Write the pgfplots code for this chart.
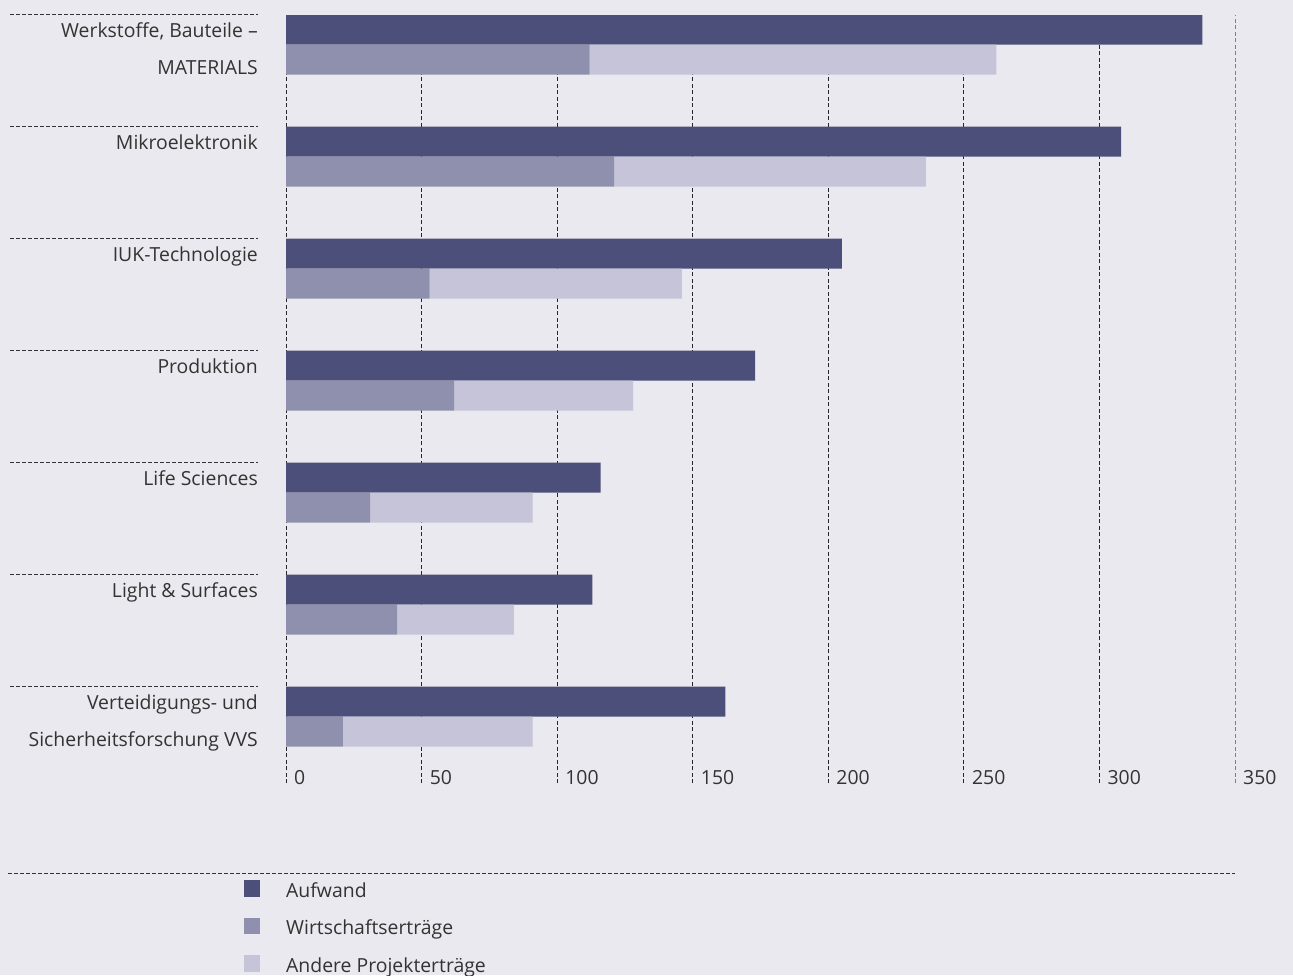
\documentclass[border=0pt]{standalone}
\usepackage{fontspec}
\setmainfont{Open Sans}
\usepackage{pgfplots}
\pgfplotsset{compat=1.18}
\definecolor{bg}{HTML}{E9E9EF}
\definecolor{cA}{HTML}{4B4F7A}
\definecolor{cW}{HTML}{8E90AE}
\definecolor{cP}{HTML}{C5C4D8}
\definecolor{txt}{HTML}{333333}
\pgfplotsset{sq/.style={legend image code/.code={\fill[##1,draw=none] (0pt,-4.5pt) rectangle (16pt,12pt);}}}
\newcommand{\lfont}{\fontsize{19.4}{37}\selectfont}
\begin{document}
\begin{tikzpicture}
\fill[bg] (0pt,0pt) rectangle (1293pt,-975pt);
\path[use as bounding box] (0pt,0pt) rectangle (1293pt,-975pt);
\foreach \yy in {14,126,238,350,462,574,686} {
  \draw[txt, line width=0.9pt, dash pattern=on 4pt off 2pt] (10pt,-\yy*1pt) -- (258pt,-\yy*1pt);
}
\draw[txt, line width=0.9pt, dash pattern=on 4pt off 2pt] (8pt,-873pt) -- (1235pt,-873pt);

\begin{axis}[
  at={(286pt,-783pt)}, anchor=south west,
  scale only axis, width=949pt, height=768pt,
  xmin=0, xmax=350, ymin=-783, ymax=-15,
  axis line style={draw=none}, major tick length=0pt,
  xtick={0,50,...,300}, xticklabels={0,50,100,150,200,250,300},
  extra x ticks={350}, extra x tick labels={350},
  extra x tick style={grid style={dash pattern=on 4pt off 2.5pt, line width=1pt, gray}},
  xmajorgrids, grid style={dash pattern=on 4pt off 2.5pt, line width=0.9pt, black!85},
  xticklabel style={anchor=base west, inner sep=0pt, xshift=8pt, yshift=-1pt, font=\lfont, text=txt},
  ytick={-74,-149,-261,-373,-485,-597,-746},
  yticklabels={{Werkstoffe, Bauteile –\\MATERIALS}, Mikroelektronik, IUK-Technologie, Produktion, Life Sciences, {Light \& Surfaces}, {Verteidigungs- und\\Sicherheitsforschung VVS}},
  yticklabel style={align=right, anchor=base east, inner sep=0pt, xshift=-28pt, font=\lfont, text=txt},
]
\addplot[xbar, bar width=30pt, bar shift=0pt, fill=cA, draw=none] coordinates {
(338,-29.5) (308,-141.5) (205,-253.5) (173,-365.5) (116,-477.5) (113,-589.5) (162,-701.5)};
\end{axis}

\begin{axis}[
  at={(286pt,-783pt)}, anchor=south west,
  scale only axis, width=949pt, height=768pt,
  xmin=0, xmax=350, ymin=-783, ymax=-15,
  hide axis, xbar stacked, bar width=30pt,
  legend style={at={(-0.04426,-0.1263)}, anchor=north west, draw=none, fill=none, inner sep=0pt,
    row sep=15.5pt, column sep=26pt, legend cell align=left,
    nodes={inner sep=0pt, text height=15pt, text depth=5pt, font=\lfont, text=txt}},
]
\addlegendimage{sq, fill=cA}
\addlegendentry{Aufwand}
\addplot[sq, fill=cW, draw=none] coordinates {
(112,-59.5) (121,-171.5) (53,-283.5) (62,-395.5) (31,-507.5) (41,-619.5) (21,-731.5)};
\addlegendentry{Wirtschaftserträge}
\addplot[sq, fill=cP, draw=none] coordinates {
(150,-59.5) (115,-171.5) (93,-283.5) (66,-395.5) (60,-507.5) (43,-619.5) (70,-731.5)};
\addlegendentry{Andere Projekterträge}
\end{axis}
\end{tikzpicture}
\end{document}
